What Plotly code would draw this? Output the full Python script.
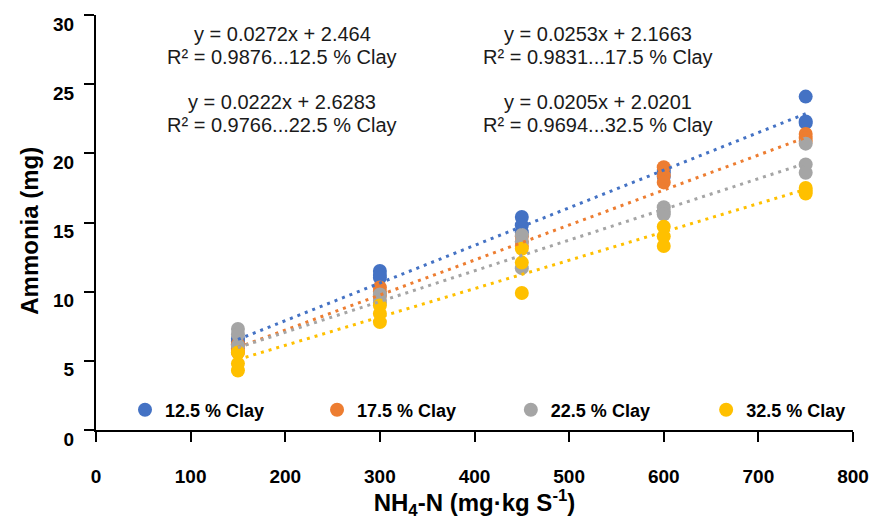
import plotly.graph_objects as go

# ---------------- data ----------------
x_levels = [150, 300, 450, 600, 750]

# three replicate readings per NH4-N level
clay_12_5 = [[6.6, 6.4, 6.2], [11.5, 11.2, 11.0], [15.4, 14.8, 14.3], [18.8, 18.6, 18.3], [24.1, 22.3, 22.2]]
clay_17_5 = [[6.2, 5.9, 5.6], [10.3, 10.0, 9.7], [14.0, 13.6, 13.3], [19.0, 18.4, 17.9], [21.4, 21.1, 20.9]]
clay_22_5 = [[7.3, 6.9, 6.1], [9.8, 9.4, 9.2], [14.1, 13.6, 11.7], [16.1, 15.8, 15.6], [20.7, 19.2, 18.6]]
clay_32_5 = [[5.6, 4.8, 4.3], [9.0, 8.4, 7.8], [13.1, 12.1, 9.9], [14.7, 14.0, 13.3], [17.5, 17.3, 17.1]]

series_names = ["12.5 % Clay", "17.5 % Clay", "22.5 % Clay", "32.5 % Clay"]
series_values = [clay_12_5, clay_17_5, clay_22_5, clay_32_5]
colors = ["#4472C4", "#ED7D31", "#A5A5A5", "#FFC000"]

# trendline equations as printed on the chart
slopes = [0.0272, 0.0253, 0.0222, 0.0205]
intercepts = [2.464, 2.1663, 2.6283, 2.0201]
r_squared = [0.9876, 0.9831, 0.9766, 0.9694]

x_ticks = [0, 100, 200, 300, 400, 500, 600, 700, 800]
y_ticks = [0, 5, 10, 15, 20, 25, 30]

# ---------------- figure ----------------
FONT = "Liberation Sans, Arial, sans-serif"
legend_ids = ["legend", "legend2", "legend3", "legend4"]
legend_x = [0.0383, 0.292, 0.548, 0.806]

fig = go.Figure()

for name, vals, col, lg in zip(series_names, series_values, colors, legend_ids):
    xs, ys = [], []
    for xv, reps in zip(x_levels, vals):
        for r in reps:
            xs.append(xv)
            ys.append(r)
    fig.add_trace(go.Scatter(
        x=xs, y=ys, mode="markers", name=name, legend=lg,
        marker=dict(color=col, size=14, line=dict(width=0)),
    ))

for name, col, m, b in zip(series_names, colors, slopes, intercepts):
    tx = [min(x_levels), max(x_levels)]
    ty = [m * v + b for v in tx]
    fig.add_trace(go.Scatter(
        x=tx, y=ty, mode="lines", showlegend=False, hoverinfo="skip",
        line=dict(color=col, width=3, dash="3px,5px"),
    ))

# equation annotations (one per line)
ann_x = [197, 530, 197, 530]
ann_y1 = [28.6, 28.6, 23.7, 23.7]
ann_y2 = [27.0, 27.0, 22.05, 22.05]
for i in range(4):
    fig.add_annotation(x=ann_x[i], y=ann_y1[i], xref="x", yref="y",
                       text=f"y = {slopes[i]}x + {intercepts[i]}", showarrow=False,
                       font=dict(family=FONT, size=20, color="#1a1a1a"))
    fig.add_annotation(x=ann_x[i], y=ann_y2[i], xref="x", yref="y",
                       text=f"R² = {r_squared[i]}...{series_names[i]}", showarrow=False,
                       font=dict(family=FONT, size=20, color="#1a1a1a"))

# y-axis title
fig.add_annotation(x=-0.0872, y=0.48, xref="paper", yref="paper",
                   xanchor="center", yanchor="middle",
                   text="Ammonia (mg)", textangle=-90, showarrow=False,
                   font=dict(family=FONT, size=24, color="black", weight="bold"))

legend_common = dict(orientation="h", xanchor="left", y=0.048, yanchor="middle",
                     font=dict(family=FONT, size=18, color="black", weight="bold"),
                     bgcolor="rgba(0,0,0,0)", borderwidth=0, itemclick=False)
legends = {lg: dict(x=lx, **legend_common) for lg, lx in zip(legend_ids, legend_x)}

# page body adds an 8px offset, so the figure is sized to fit the window
fig.update_layout(
    width=869, height=512,
    margin=dict(l=88, r=24, t=7, b=90),
    paper_bgcolor="white", plot_bgcolor="white",
    font=dict(family=FONT, color="black"),
    showlegend=True,
    **legends,
    xaxis=dict(range=[0, 800], tickvals=x_ticks, showgrid=False, zeroline=False,
               showline=True, linecolor="black", linewidth=2,
               ticks="outside", ticklen=10, tickwidth=2, tickcolor="black",
               ticklabelstandoff=18,
               tickfont=dict(family=FONT, size=19, color="black", weight="bold"),
               title=dict(text="NH<sub>4</sub>-N (mg·kg S<sup>-1</sup>)", standoff=14,
                          font=dict(family=FONT, size=24, color="black", weight="bold")),
               automargin=False),
    yaxis=dict(range=[0, 30], tickvals=y_ticks, showgrid=False, zeroline=False,
               showline=True, linecolor="black", linewidth=2,
               ticks="outside", ticklen=10, tickwidth=2, tickcolor="black",
               ticklabelstandoff=6, ticklabelshift=9,
               tickfont=dict(family=FONT, size=19, color="black", weight="bold"),
               automargin=False),
)

fig.write_html("out.html")
